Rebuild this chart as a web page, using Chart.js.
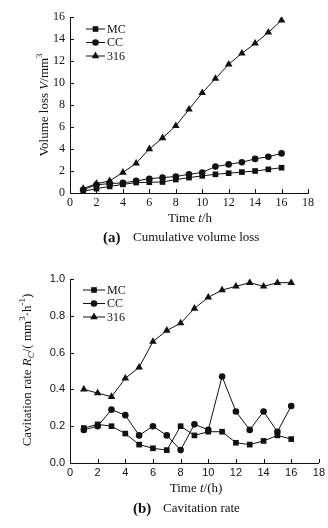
<!DOCTYPE html>
<html>
<head>
<meta charset="utf-8">
<script src="https://cdn.jsdelivr.net/npm/chart.js@4.4.1/dist/chart.umd.min.js"></script>
<style>
  html, body { margin: 0; padding: 0; background: #fff; }
  #wrap { position: relative; width: 328px; height: 528px; }
  canvas { position: absolute; left: 0; }
</style>
</head>
<body>
<div id="wrap">
  <canvas id="cumul" width="328" height="255" style="top:0"></canvas>
  <canvas id="rate" width="328" height="273" style="top:255px"></canvas>
</div>
<script>
// test hours
var times = [1, 2, 3, 4, 5, 6, 7, 8, 9, 10, 11, 12, 13, 14, 15, 16];

// cumulative volume loss, mm^3
var volMC  = [0.15, 0.4, 0.6, 0.78, 0.95, 0.98, 1.0, 1.22, 1.4, 1.56, 1.7, 1.8, 1.9, 2.0, 2.15, 2.3];
var volCC  = [0.3, 0.75, 0.85, 0.92, 1.1, 1.3, 1.4, 1.5, 1.7, 1.87, 2.4, 2.6, 2.8, 3.1, 3.3, 3.6];
var vol316 = [0.4, 0.85, 1.1, 1.87, 2.7, 4.0, 5.0, 6.1, 7.6, 9.1, 10.4, 11.7, 12.7, 13.6, 14.6, 15.7];

// cavitation rate, mm^3/h
var rateMC  = [0.19, 0.21, 0.20, 0.16, 0.10, 0.08, 0.07, 0.20, 0.15, 0.17, 0.17, 0.11, 0.10, 0.12, 0.15, 0.13];
var rateCC  = [0.18, 0.20, 0.29, 0.26, 0.15, 0.20, 0.15, 0.07, 0.21, 0.18, 0.47, 0.28, 0.18, 0.28, 0.17, 0.31];
var rate316 = [0.40, 0.38, 0.36, 0.46, 0.52, 0.66, 0.72, 0.76, 0.84, 0.90, 0.94, 0.96, 0.98, 0.96, 0.98, 0.98];

var seriesNames = ['MC', 'CC', '316'];
var markers = ['rect', 'circle', 'triangle'];
var markerRadius = [4, 3.3, 4.4];

var ink = '#111';
var serif = '"Liberation Serif", "Times New Roman", serif';
var sans = '"Liberation Sans", Arial, sans-serif';

function pairs(ys) {
  return times.map(function (t, i) { return { x: t, y: ys[i] }; });
}

function segFont(s, size) {
  var sz = (s.sup || s.sub) ? Math.round(size * 0.7) : size;
  return (s.i ? 'italic ' : '') + (s.b ? 'bold ' : '') + sz + 'px ' + serif;
}

// draws a run of text pieces (italic, super/subscript) centred on cx,cy
function drawRich(ctx, segs, cx, cy, size, angle) {
  ctx.save();
  ctx.translate(cx, cy);
  ctx.rotate(angle || 0);
  ctx.fillStyle = ink;
  ctx.textBaseline = 'middle';
  ctx.textAlign = 'left';
  var total = 0;
  segs.forEach(function (s) { ctx.font = segFont(s, size); total += ctx.measureText(s.t).width; });
  var x = -total / 2;
  segs.forEach(function (s) {
    ctx.font = segFont(s, size);
    var dy = s.sup ? -size * 0.38 : (s.sub ? size * 0.3 : 0);
    ctx.fillText(s.t, x, dy);
    x += ctx.measureText(s.t).width;
  });
  ctx.restore();
}

function drawMarker(ctx, style, r, x, y) {
  ctx.beginPath();
  if (style === 'rect') {
    var h = r * Math.SQRT1_2;
    ctx.rect(x - h, y - h, 2 * h, 2 * h);
  } else if (style === 'circle') {
    ctx.arc(x, y, r, 0, Math.PI * 2);
  } else {
    ctx.moveTo(x, y - r);
    ctx.lineTo(x + r * 0.866, y + r * 0.5);
    ctx.lineTo(x - r * 0.866, y + r * 0.5);
    ctx.closePath();
  }
  ctx.fill();
}

// inward ticks, legend, axis titles and caption
var decor = {
  id: 'decor',
  afterDraw: function (chart) {
    var d = chart.options.plugins.decor;
    var ctx = chart.ctx;
    var xs = chart.scales.x, ys = chart.scales.y;
    ctx.save();
    ctx.strokeStyle = ink;
    ctx.lineWidth = 1;
    ctx.beginPath();
    xs.ticks.forEach(function (t) {
      var px = Math.round(xs.getPixelForValue(t.value)) + 0.5;
      ctx.moveTo(px, ys.bottom);
      ctx.lineTo(px, ys.bottom - 4);
    });
    ys.ticks.forEach(function (t) {
      var py = Math.round(ys.getPixelForValue(t.value)) + 0.5;
      ctx.moveTo(xs.left, py);
      ctx.lineTo(xs.left + 4, py);
    });
    ctx.stroke();

    // legend
    ctx.fillStyle = ink;
    ctx.font = '12px ' + serif;
    ctx.textBaseline = 'middle';
    seriesNames.forEach(function (name, i) {
      var y = d.legY + i * d.legGap;
      ctx.beginPath();
      ctx.moveTo(d.legX0, y);
      ctx.lineTo(d.legX1, y);
      ctx.stroke();
      drawMarker(ctx, markers[i], markerRadius[i], (d.legX0 + d.legX1) / 2, y);
      ctx.fillText(name, d.legX1 + 2, y + 0.5);
    });
    ctx.restore();

    drawRich(ctx, d.yTitle, d.yTitleX, d.yTitleY, 13, -Math.PI / 2);
    drawRich(ctx, d.xTitle, d.xTitleX, d.xTitleY, 13, 0);

    ctx.save();
    ctx.fillStyle = ink;
    ctx.textBaseline = 'middle';
    ctx.font = 'bold 15px ' + serif;
    ctx.fillText(d.capTag, d.capX, d.capY);
    ctx.font = '13px ' + serif;
    ctx.fillText(d.capText, d.capX + 30, d.capY);
    ctx.restore();
  }
};

function buildChart(id, sets, yMax, yStep, tickFont, yDigits, pad, axisW, axisH, decorOpts) {
  var ctx = document.getElementById(id).getContext('2d');
  return new Chart(ctx, {
    type: 'line',
    data: {
      datasets: sets.map(function (ys, i) {
        return {
          label: seriesNames[i],
          data: pairs(ys),
          borderColor: ink,
          borderWidth: 1,
          backgroundColor: ink,
          pointStyle: markers[i],
          pointRadius: markerRadius[i],
          pointBorderWidth: 0,
          pointBackgroundColor: ink,
          tension: 0,
          fill: false
        };
      })
    },
    options: {
      responsive: false,
      animation: false,
      devicePixelRatio: 1,
      layout: { padding: pad },
      plugins: { legend: { display: false }, tooltip: { enabled: false }, decor: decorOpts },
      scales: {
        x: {
          type: 'linear', min: 0, max: 18,
          grid: { display: false, drawTicks: false },
          border: { display: true, color: ink, width: 1 },
          ticks: { stepSize: 2, color: ink, font: tickFont, padding: 3, maxRotation: 0 },
          afterFit: function (s) { s.height = axisH; }
        },
        y: {
          min: 0, max: yMax,
          grid: { display: false, drawTicks: false },
          border: { display: true, color: ink, width: 1 },
          ticks: {
            stepSize: yStep, color: ink, font: tickFont, padding: 5,
            callback: function (v) { return yDigits ? v.toFixed(yDigits) : v; }
          },
          afterFit: function (s) { s.width = axisW; }
        }
      }
    },
    plugins: [decor]
  });
}

buildChart('cumul', [volMC, volCC, vol316], 16, 2,
  { family: serif, size: 12 }, 0,
  { top: 17, right: 20, left: 0, bottom: 0 }, 70, 62,
  {
    legX0: 86, legX1: 105, legY: 29, legGap: 13.5,
    yTitle: [{ t: 'Volume loss ' }, { t: 'V', i: 1 }, { t: '/mm' }, { t: '3', sup: 1 }],
    yTitleX: 45, yTitleY: 105,
    xTitle: [{ t: 'Time ' }, { t: 't', i: 1 }, { t: '/h' }],
    xTitleX: 190, xTitleY: 219,
    capTag: '(a)', capX: 103, capY: 238, capText: 'Cumulative volume loss'
  });

buildChart('rate', [rateMC, rateCC, rate316], 1.0, 0.2,
  { family: sans, size: 11 }, 1,
  { top: 24, right: 9, left: 0, bottom: 0 }, 70, 65,
  {
    legX0: 83, legX1: 105, legY: 35, legGap: 13.5,
    yTitle: [{ t: 'Cavitation rate ' }, { t: 'R', i: 1 }, { t: 'C', i: 1, sub: 1 }, { t: '/( mm' },
             { t: '3', sup: 1 }, { t: '\u00b7h' }, { t: '-1', sup: 1 }, { t: ')' }],
    yTitleX: 28, yTitleY: 115,
    xTitle: [{ t: 'Time ' }, { t: 't', i: 1 }, { t: '/(h)' }],
    xTitleX: 196, xTitleY: 234,
    capTag: '(b)', capX: 133, capY: 254, capText: 'Cavitation rate'
  });
</script>
</body>
</html>
